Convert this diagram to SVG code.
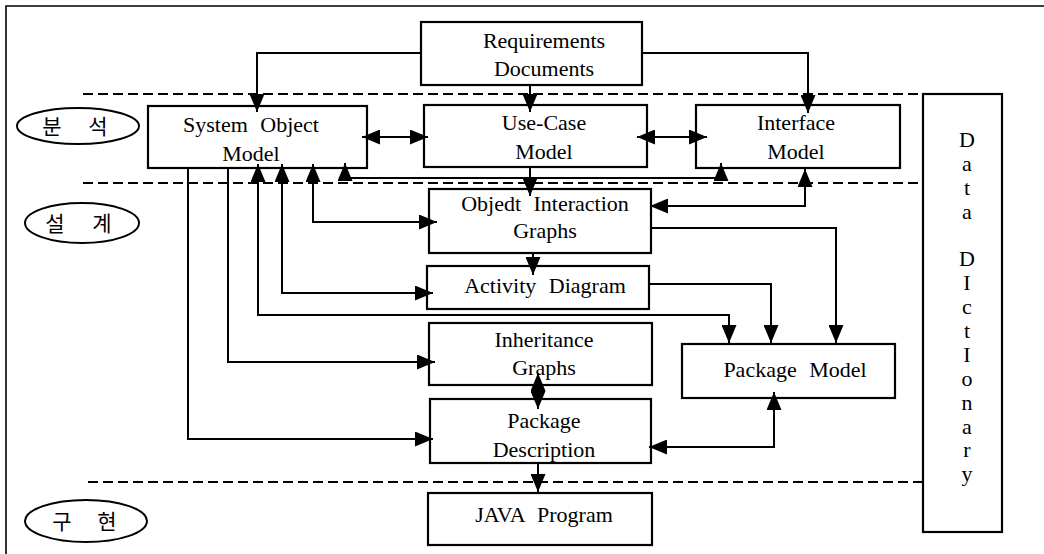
<svg xmlns="http://www.w3.org/2000/svg" width="1044" height="554" viewBox="0 0 1044 554">
  <defs>
    <marker id="arw" markerUnits="userSpaceOnUse" markerWidth="18" markerHeight="15" refX="18" refY="7.5" orient="auto-start-reverse">
      <path d="M0,0 L18,7.5 L0,15 z" fill="#000"/>
    </marker>
    <style>
      .box { fill: none; stroke: #000; stroke-width: 2.2; }
      .lbl { font-family: 'Liberation Serif', 'DejaVu Serif', serif; font-size: 22px; fill: #000; text-anchor: middle; word-spacing: 7px; }
      .kr { font-family: 'Noto Sans CJK KR', sans-serif; font-size: 21px; fill: #000; text-anchor: middle; }
      .oval { fill: #fff; stroke: #000; stroke-width: 2; }
      .dash { fill: none; stroke: #000; stroke-width: 2; stroke-dasharray: 10 5; }
      .cn { fill: none; stroke: #000; stroke-width: 2; }
      .one { marker-end: url(#arw); }
      .two { marker-start: url(#arw); marker-end: url(#arw); }
    </style>
  </defs>
  <rect width="1044" height="554" fill="#fff"/>

  <!-- frame -->
  <path d="M6,554 V6 H1044" fill="none" stroke="#000" stroke-width="1.6"/>

  <!-- phase separators -->
  <g id="separators">
    <line class="dash" x1="83" y1="94" x2="923" y2="94"/>
    <line class="dash" x1="83" y1="183" x2="923" y2="183"/>
    <line class="dash" x1="88" y1="482" x2="928" y2="482"/>
  </g>

  <!-- phase labels -->
  <g id="phase-analysis">
    <ellipse class="oval" cx="78" cy="126" rx="61" ry="18"/>
    <text class="kr" x="52" y="134">분</text>
    <text class="kr" x="98" y="134">석</text>
  </g>
  <g id="phase-design">
    <ellipse class="oval" cx="82" cy="223" rx="57" ry="20"/>
    <text class="kr" x="55" y="231">설</text>
    <text class="kr" x="102" y="231">계</text>
  </g>
  <g id="phase-implementation">
    <ellipse class="oval" cx="86" cy="521" rx="61" ry="21"/>
    <text class="kr" x="62" y="529">구</text>
    <text class="kr" x="107" y="529">현</text>
  </g>

  <!-- connectors -->
  <g id="connectors">
    <polyline class="cn one" points="421,53 257,53 257,112"/>
    <polyline class="cn one" points="530,85 530,112"/>
    <polyline class="cn one" points="642,53 808,53 808,113"/>
    <polyline class="cn two" points="362,137 428,137"/>
    <polyline class="cn two" points="637,137 707,137"/>
    <polyline class="cn two" points="345,163 345,178 721,178 721,163"/>
    <polyline class="cn one" points="530,167 530,196"/>
    <polyline class="cn two" points="650,206 805,206 805,169"/>
    <polyline class="cn one" points="651,228 836,228 836,343"/>
    <polyline class="cn one" points="649,284 771,284 771,343"/>
    <polyline class="cn two" points="258,164 258,315 729,315 729,343"/>
    <polyline class="cn two" points="282,164 282,293 433,293"/>
    <polyline class="cn two" points="313,164 313,222 437,222"/>
    <polyline class="cn one" points="228,168 228,362 435,362"/>
    <polyline class="cn one" points="188,168 188,439 433,439"/>
    <polyline class="cn one" points="533,253 533,275"/>
    <polyline class="cn two" points="538,373 538,409"/>
    <polyline class="cn two" points="774,392 774,447 649,447"/>
    <polyline class="cn one" points="538,463 538,492"/>
  </g>

  <!-- nodes -->
  <g id="requirements">
    <rect class="box" x="421" y="22" width="221" height="63"/>
    <text class="lbl" x="544" y="48">Requirements</text>
    <text class="lbl" x="544" y="76">Documents</text>
  </g>
  <g id="system-object-model">
    <rect class="box" x="148" y="106" width="219" height="62"/>
    <text class="lbl" x="251" y="132">System Object</text>
    <text class="lbl" x="251" y="161">Model</text>
  </g>
  <g id="use-case-model">
    <rect class="box" x="424" y="105" width="223" height="62"/>
    <text class="lbl" x="544" y="130">Use-Case</text>
    <text class="lbl" x="544" y="159">Model</text>
  </g>
  <g id="interface-model">
    <rect class="box" x="696" y="105" width="204" height="63"/>
    <text class="lbl" x="796" y="130">Interface</text>
    <text class="lbl" x="796" y="159">Model</text>
  </g>
  <g id="object-interaction-graphs">
    <rect class="box" x="429" y="189" width="222" height="64"/>
    <text class="lbl" x="545" y="211">Objedt Interaction</text>
    <text class="lbl" x="545" y="238">Graphs</text>
  </g>
  <g id="activity-diagram">
    <rect class="box" x="427" y="266" width="222" height="43"/>
    <text class="lbl" x="545" y="293">Activity Diagram</text>
  </g>
  <g id="inheritance-graphs">
    <rect class="box" x="429" y="323" width="223" height="62"/>
    <text class="lbl" x="544" y="347">Inheritance</text>
    <text class="lbl" x="544" y="375">Graphs</text>
  </g>
  <g id="package-description">
    <rect class="box" x="430" y="399" width="221" height="64"/>
    <text class="lbl" x="544" y="428">Package</text>
    <text class="lbl" x="544" y="457">Description</text>
  </g>
  <g id="package-model">
    <rect class="box" x="682" y="344" width="213" height="54"/>
    <text class="lbl" x="795" y="377">Package Model</text>
  </g>
  <g id="java-program">
    <rect class="box" x="428" y="493" width="224" height="52"/>
    <text class="lbl" x="544" y="522">JAVA Program</text>
  </g>
  <g id="data-dictionary">
    <rect class="box" x="923" y="94" width="79" height="438"/>
    <text class="lbl" x="967" y="147">D</text>
    <text class="lbl" x="967" y="171">a</text>
    <text class="lbl" x="967" y="195">t</text>
    <text class="lbl" x="967" y="219">a</text>
    <text class="lbl" x="967" y="266">D</text>
    <text class="lbl" x="967" y="290">I</text>
    <text class="lbl" x="967" y="314">c</text>
    <text class="lbl" x="967" y="338">t</text>
    <text class="lbl" x="967" y="362">I</text>
    <text class="lbl" x="967" y="386">o</text>
    <text class="lbl" x="967" y="410">n</text>
    <text class="lbl" x="967" y="434">a</text>
    <text class="lbl" x="967" y="457">r</text>
    <text class="lbl" x="967" y="481">y</text>
  </g>
</svg>
